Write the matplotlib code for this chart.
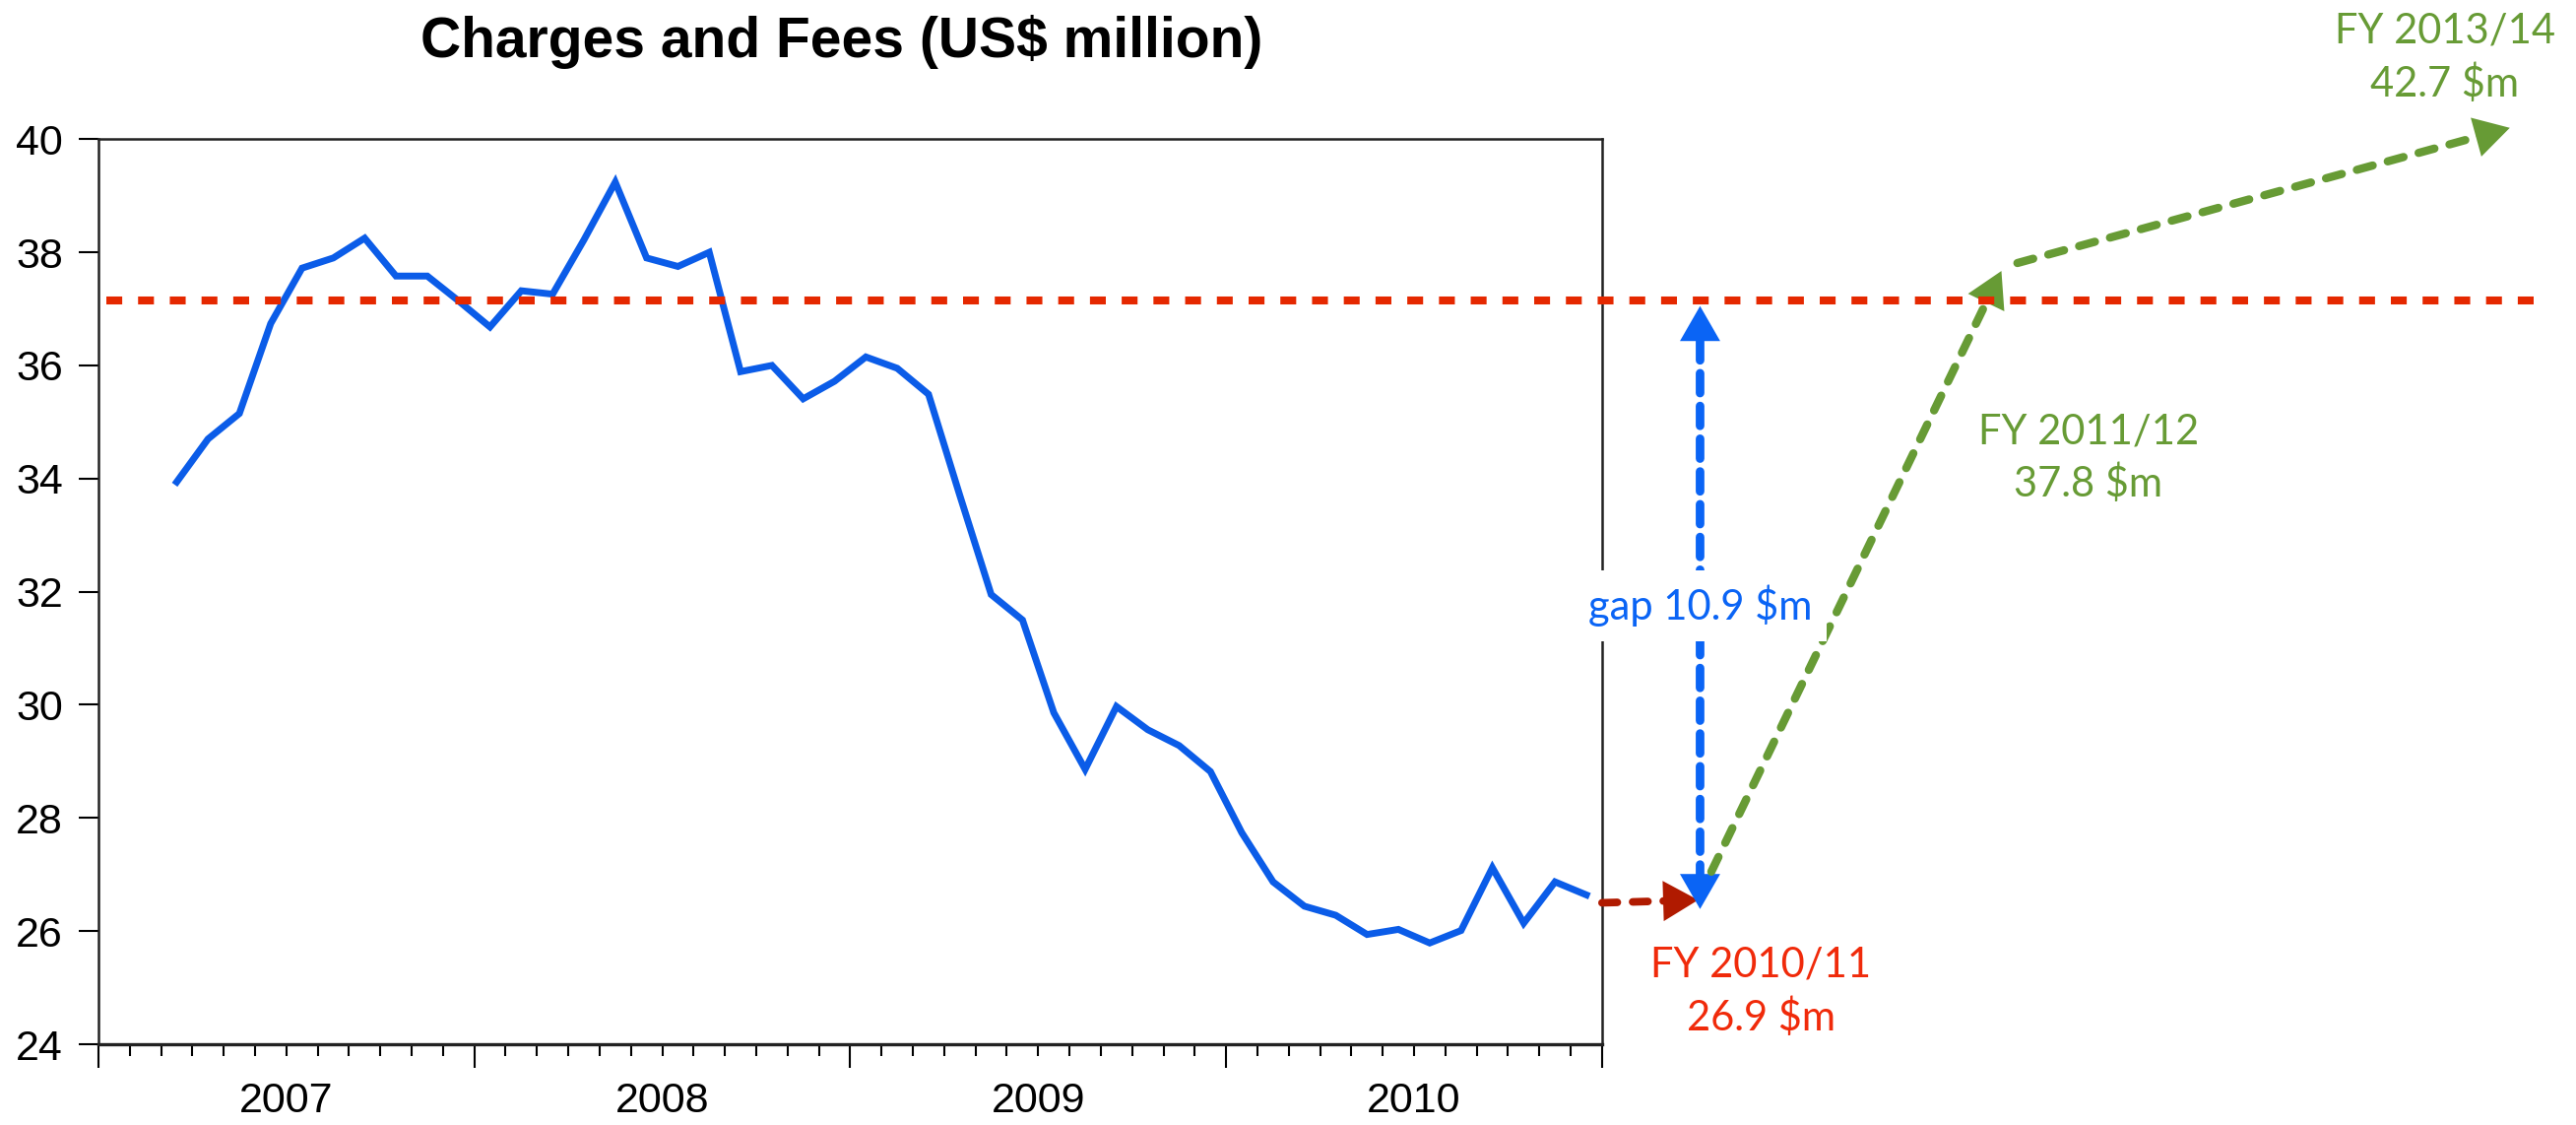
import numpy as np
import matplotlib
matplotlib.use('Agg')
import matplotlib.pyplot as plt

plt.rcParams['font.family'] = ['Liberation Sans', 'DejaVu Sans']

# ========== 1. data ==========
# monthly charges and fees, Mar 2007 .. Dec 2010 (US$ million)
fees = [33.94, 34.70, 35.15, 36.74, 37.72, 37.90, 38.25, 37.58, 37.58, 37.14,
        36.68, 37.32, 37.26, 38.22, 39.24, 37.90, 37.75, 38.00, 35.89, 36.00,
        35.41, 35.72, 36.15, 35.95, 35.49, 33.70, 31.95, 31.50, 29.86, 28.86,
        29.97, 29.56, 29.28, 28.82, 27.74, 26.87, 26.44, 26.28, 25.94, 26.03,
        25.79, 26.01, 27.12, 26.14, 26.87, 26.64]
first_month = 2            # 0 = Jan 2007, so 2 = March
years = ['2007', '2008', '2009', '2010']

# target level (red dashed), x in months since Jan 2007
target_y = 37.15
target_x = [0.25, 78.1]

# projection points
hist_end = (48.0, 26.50)      # last actual value at the axis edge
fy1011 = (51.07, 26.55)
gap_x = 51.13
gap_lo, gap_hi = 26.39, 37.05
fy1112_from, fy1112_to = (51.49, 27.05), (60.75, 37.67)
fy1314_from, fy1314_to = (61.26, 37.81), (76.98, 40.20)

# label positions
gap_pos = (51.13, 31.75)
fy1011_pos = (53.08, 24.93)
fy1112_pos = (63.52, 34.36)
fy1314_pos = (74.90, 41.44)

# ========== 2. figure ==========
fig = plt.figure(figsize=(26.16, 11.42), dpi=100)
ax = fig.add_axes([0.0382, 0.0718, 0.5837, 0.8045])

x = np.arange(len(fees)) + first_month + 0.5
ax.plot(x, fees, color='#0b5ce8', lw=5.0, solid_joinstyle='miter')

ax.plot(target_x, [target_y, target_y], color='#e52800', lw=5.8,
        linestyle=(0, (2, 2)), dash_capstyle='butt', clip_on=False, zorder=4)


def dashed_arrow(p0, p1, color, lw, dash, both=False):
    # dashed shaft, solid head drawn separately
    ax.annotate('', xy=p1, xytext=p0, annotation_clip=False,
                arrowprops=dict(arrowstyle='-', color=color, lw=lw,
                                linestyle=(0, dash),
                                shrinkA=18 if both else 0, shrinkB=18))
    style = '<|-|>' if both else '-|>'
    ax.annotate('', xy=p1, xytext=p0, annotation_clip=False,
                arrowprops=dict(arrowstyle=style + ',head_length=0.4,head_width=0.23',
                                mutation_scale=64, color=color, lw=0,
                                shrinkA=0, shrinkB=0))


dashed_arrow(hist_end, fy1011, '#b01a00', 5.6, (2.0, 2.0))
dashed_arrow((gap_x, gap_lo), (gap_x, gap_hi), '#0a64f5', 6.3, (2.3, 1.5), both=True)
dashed_arrow(fy1112_from, fy1112_to, '#679b35', 6.0, (2.0, 1.9))
dashed_arrow(fy1314_from, fy1314_to, '#679b35', 6.0, (2.0, 1.9))

lab = dict(family=['Lato', 'DejaVu Sans'], fontsize=30, ha='center', va='center',
           linespacing=1.4)
ax.text(*gap_pos, 'gap 10.9 $m', color='#0a64f5', zorder=10,
        bbox=dict(boxstyle='square,pad=0.35', fc='white', ec='none'), **lab)
ax.text(*fy1011_pos, 'FY 2010/11\n26.9 $m', color='#f02a0a', **lab)
ax.text(*fy1112_pos, 'FY 2011/12\n37.8 $m', color='#679b35', **lab)
ax.text(*fy1314_pos, 'FY 2013/14\n42.7 $m', color='#679b35', **lab)

# ========== 3. axes ==========
ax.set_xlim(0, 48)
ax.set_ylim(24, 40)
ax.set_yticks(np.arange(24, 41, 2))
ax.set_xticks(np.arange(0, 49, 12))
ax.set_xticks(np.arange(0, 49, 1), minor=True)
ax.tick_params(axis='y', length=14.4, width=1.5, pad=11.5, labelsize=31)
ax.tick_params(axis='x', which='major', length=17, width=1.5, labelbottom=False)
ax.tick_params(axis='x', which='minor', length=8.6, width=1.5)
for s in ax.spines.values():
    s.set_color('#222222')
    s.set_linewidth(1.8)
ax.spines['bottom'].set_linewidth(2.4)

sec = ax.secondary_xaxis('bottom')
sec.set_xticks(np.arange(6, 48, 12), labels=years)
sec.tick_params(length=0, pad=27, labelsize=31)
sec.spines['bottom'].set_visible(False)

fig.text(0.3268, 0.949, 'Charges and Fees (US$ million)', ha='center',
         va='baseline', fontsize=41, fontweight='bold')

plt.savefig('out.png', dpi=100)
